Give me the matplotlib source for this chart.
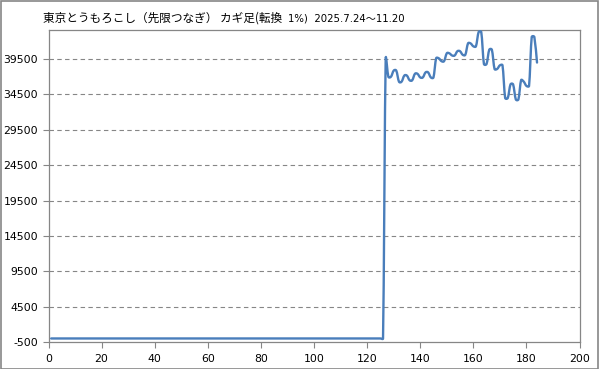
import numpy as np
import matplotlib
matplotlib.use("Agg")
import matplotlib.pyplot as plt
from matplotlib.path import Path
from matplotlib.patches import PathPatch, Rectangle

plt.rcParams['axes.unicode_minus'] = False

# データ (カギ足の転換点, 横軸は通し番号)
title_jp = "東京とうもろこし（先限つなぎ） カギ足(転換"
title_rest = "1%)  2025.7.24～11.20"

before_days = list(range(1, 127))
before_values = [0] * 126

price_days = list(range(127, 185))
price_values = [
    39500, 37000, 37000, 37850, 37850, 36300, 36300, 37150, 37150, 36500,
    36500, 37400, 37400, 36900, 36900, 37600, 37600, 36900, 36900, 39600,
    39600, 39200, 39200, 40300, 40300, 40000, 40000, 40600, 40600, 40100,
    40100, 41700, 41700, 41300, 41300, 43300, 43300, 38800, 38800, 40800,
    40800, 38100, 38100, 38600, 38600, 34000, 34000, 35900, 35900, 33800,
    33800, 36500, 36300, 35700, 35700, 42600, 42600, 39000,
]

x_ticks = list(range(0, 201, 20))
y_ticks = list(range(-500, 39501, 5000))

W, H = 599, 369
LEFT, RIGHT, TOP, BOTTOM = 48.5, 579.5, 30, 342
XMIN, XMAX, YMIN, YMAX = 0, 200, -500, 43600
GREY = '#868686'
BLUE = '#4A7EBB'


def smooth_path(x, y, sx, sy):
    """Excel風の平滑線 (ベジエ) をピクセル空間で作る"""
    p = np.column_stack([np.asarray(x, float) * sx, np.asarray(y, float) * sy])
    n = len(p)
    verts = [p[0]]
    codes = [Path.MOVETO]
    for i in range(n - 1):
        p0 = p[i - 1] if i > 0 else p[i]
        p1, p2 = p[i], p[i + 1]
        p3 = p[i + 2] if i + 2 < n else p[i + 1]
        d12 = np.hypot(*(p2 - p1))
        d02 = np.hypot(*(p2 - p0))
        d13 = np.hypot(*(p3 - p1))
        f1 = 1 / 6 if d02 / 6 < d12 / 2 else (d12 / (2 * d02) if d02 > 0 else 0)
        f2 = 1 / 6 if d13 / 6 < d12 / 2 else (d12 / (2 * d13) if d13 > 0 else 0)
        verts += [p1 + (p2 - p0) * f1, p2 - (p3 - p1) * f2, p2]
        codes += [Path.CURVE4] * 3
    verts = np.array(verts) / [sx, sy]
    return Path(verts, codes)


fig = plt.figure(figsize=(W / 100, H / 100), dpi=100)
ax = fig.add_axes([LEFT / W, 1 - BOTTOM / H, (RIGHT - LEFT) / W, (BOTTOM - TOP) / H])

ax.set_xlim(XMIN, XMAX)
ax.set_ylim(YMIN, YMAX)
ax.set_xticks(x_ticks)
ax.set_yticks(y_ticks)
ax.tick_params(axis='both', labelsize=7.8, colors=GREY, labelcolor='black',
               direction='out', length=4, width=0.8)
ax.tick_params(axis='x', pad=5)
ax.tick_params(axis='y', pad=3.5)
for sp in ax.spines.values():
    sp.set_color(GREY)
    sp.set_linewidth(0.9)

for yv in y_ticks[1:]:
    ax.axhline(yv, color=GREY, lw=0.8, ls=(0, (4, 3)), zorder=1)

days = before_days + price_days
values = before_values + price_values
sx = (RIGHT - LEFT) / (XMAX - XMIN)
sy = (BOTTOM - TOP) / (YMAX - YMIN)
path = smooth_path(days, values, sx, sy)
ax.add_patch(PathPatch(path, facecolor='none', edgecolor=BLUE, lw=1.7,
                       capstyle='round', joinstyle='round', zorder=3))

fig.text(43 / W, 1 - 18 / H, title_jp, fontsize=8.4, va='center', ha='left',
         family=['Noto Sans CJK JP', 'DejaVu Sans'])
fig.text(288 / W, 1 - 18.5 / H, title_rest, fontsize=7.3, va='center', ha='left',
         family=['DejaVu Sans', 'Noto Sans CJK JP'])

fig.add_artist(Rectangle((0.5 / W, 0.5 / H), 1 - 1.5 / W, 1 - 1.5 / H,
                         transform=fig.transFigure, fill=False,
                         edgecolor=GREY, lw=1.2))

fig.savefig("out.png", dpi=100)
